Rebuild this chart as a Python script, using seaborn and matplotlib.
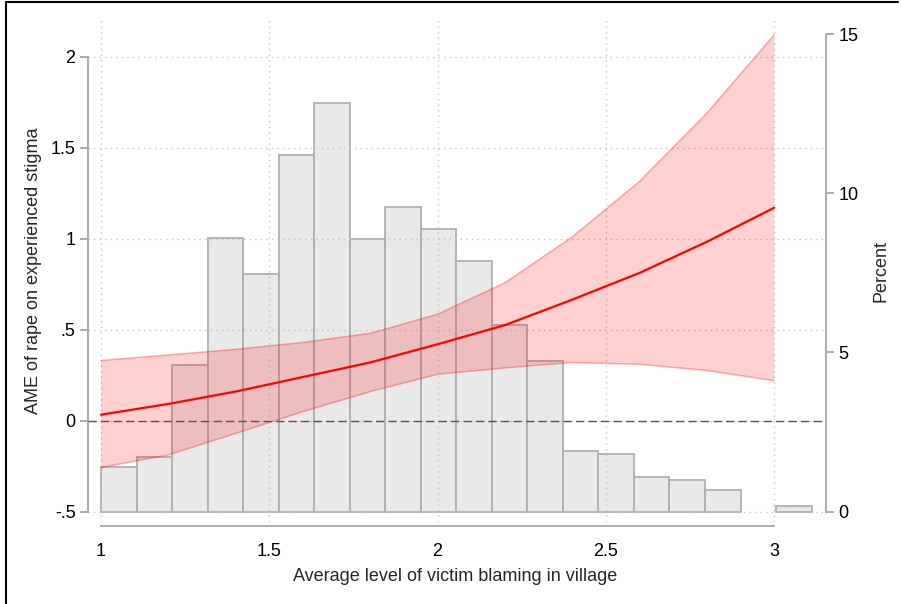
import numpy as np
import pandas as pd
import matplotlib
matplotlib.use('Agg')
import matplotlib.pyplot as plt
from matplotlib.lines import Line2D
import seaborn as sns

# margins: AME of rape on stigma over village victim blaming
blame_at = [1.0, 1.2, 1.4, 1.6, 1.8, 2.0, 2.2, 2.4, 2.6, 2.8, 3.0]
ame = [0.033, 0.092, 0.160, 0.240, 0.320, 0.420, 0.525, 0.665, 0.812, 0.983, 1.170]
ci_low = [-0.257, -0.188, -0.070, 0.050, 0.160, 0.255, 0.290, 0.320, 0.310, 0.276, 0.220]
ci_high = [0.331, 0.361, 0.392, 0.430, 0.480, 0.585, 0.758, 1.010, 1.315, 1.690, 2.120]

# histogram of the moderator (percent per bin)
hist_start = 1.0
hist_width = 0.10556
hist_pct = [1.39, 1.71, 4.62, 8.58, 7.47, 11.20, 12.82, 8.56, 9.58, 8.87,
            7.86, 5.85, 4.73, 1.90, 1.80, 1.09, 1.00, 0.68, 0.0, 0.19]

left_ticks = [-0.5, 0, 0.5, 1, 1.5, 2]
left_labels = ['-.5', '0', '.5', '1', '1.5', '2']
x_ticks = [1, 1.5, 2, 2.5, 3]
x_labels = ['1', '1.5', '2', '2.5', '3']
right_ticks = [0, 5, 10, 15]
right_labels = ['0', '5', '10', '15']

sns.set_style('white')
plt.rcParams['font.family'] = ['Liberation Sans', 'DejaVu Sans']

W, H = 901, 604
fig = plt.figure(figsize=(W / 100, H / 100), dpi=100)
ax_pct = fig.add_axes([88 / W, 1 - 522 / H, (823 - 88) / W, (522 - 20) / H])
ax_ame = ax_pct.twinx()

spine_col = '#ababab'
grid_col = '#c4c4c4'

# histogram on the percent axis
n_bins = len(hist_pct)
hist_df = pd.DataFrame({
    'blame': hist_start + hist_width * (np.arange(n_bins) + 0.5),
    'pct': hist_pct,
})
sns.histplot(data=hist_df, x='blame', weights='pct', stat='count', ax=ax_pct,
             binwidth=hist_width, binrange=(hist_start, hist_start + n_bins * hist_width),
             color='#e9e9e9', alpha=1, edgecolor='#b0b0b0', linewidth=1.3)
for p in ax_pct.patches:
    if p.get_height() == 0:
        p.set_visible(False)

# CI band and AME line on the left axis
ax_ame.fill_between(blame_at, ci_low, ci_high, facecolor=(1, 0, 0, 0.18),
                    edgecolor='none', zorder=2)
ax_ame.plot(blame_at, ci_low, color=(1, 0, 0, 0.3), lw=1.1, zorder=3)
ax_ame.plot(blame_at, ci_high, color=(1, 0, 0, 0.3), lw=1.1, zorder=3)
sns.lineplot(x=blame_at, y=ame, ax=ax_ame, color='#ff0000', lw=1.6, zorder=4)
ax_ame.axhline(0, color='#555555', lw=1.0, ls=(0, (6, 3)), zorder=3)

# limits so both axes share the same plot region as the original
ax_pct.set_xlim(0.9614, 3.145)
ax_ame.set_ylim(-0.5566, 2.2016)
ax_pct.set_ylim(-0.323, 15.44)

# left axis
ax_ame.yaxis.tick_left()
ax_ame.yaxis.set_label_position('left')
ax_ame.set_yticks(left_ticks)
ax_ame.set_yticklabels(left_labels)
ax_ame.set_ylabel('AME of rape on experienced stigma', fontsize=13, labelpad=6)
ax_ame.grid(axis='y', color=grid_col, lw=1.0, ls=(0, (1, 3)))
ax_ame.set_axisbelow(True)

# right axis
ax_pct.yaxis.tick_right()
ax_pct.yaxis.set_label_position('right')
ax_pct.set_yticks(right_ticks)
ax_pct.set_yticklabels(right_labels)
ax_pct.set_ylabel('Percent', fontsize=13, labelpad=10)

# bottom axis
ax_pct.set_xticks(x_ticks)
ax_pct.set_xticklabels(x_labels)
ax_pct.set_xlabel('Average level of victim blaming in village', fontsize=13, labelpad=6)
ax_pct.grid(axis='x', color=grid_col, lw=1.0, ls=(0, (1, 3)))
ax_pct.set_axisbelow(False)

for a in (ax_pct, ax_ame):
    for s in a.spines.values():
        s.set_visible(False)
        s.set_color(spine_col)
        s.set_linewidth(1.4)
    a.tick_params(colors=spine_col, labelcolor='black', labelsize=13,
                  length=6, width=1.4, direction='out')

ax_ame.spines['left'].set_visible(True)
ax_ame.spines['left'].set_bounds(-0.5, 2)
ax_ame.tick_params(axis='y', pad=3)

ax_pct.spines['right'].set_visible(True)
ax_pct.spines['right'].set_bounds(0, 15)
ax_pct.spines['right'].set_position(('outward', 2))
ax_pct.tick_params(axis='y', pad=3)

ax_pct.spines['bottom'].set_visible(True)
ax_pct.spines['bottom'].set_bounds(1, 3)
ax_pct.spines['bottom'].set_position(('outward', 3))
ax_pct.tick_params(axis='x', pad=6)

# outer frame (left and top edges only, as in the source image)
fig.add_artist(Line2D([6 / W, 6 / W], [0, 1 - 2 / H], color='black', lw=1.5,
                      transform=fig.transFigure))
fig.add_artist(Line2D([6 / W, 898 / W], [1 - 2 / H, 1 - 2 / H], color='black', lw=1.5,
                      transform=fig.transFigure))

fig.savefig('out.png', dpi=100)
